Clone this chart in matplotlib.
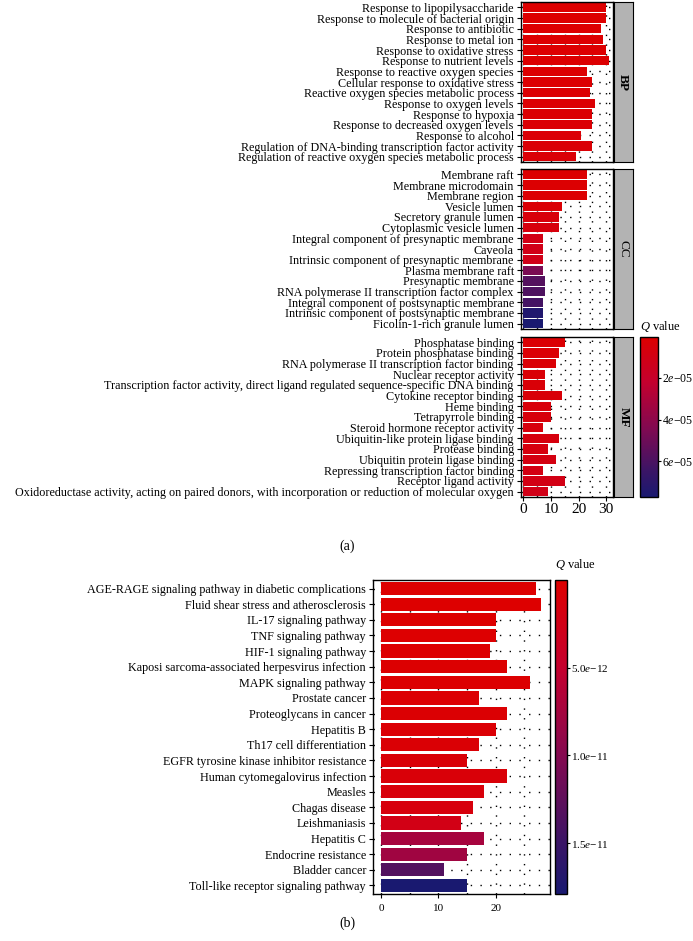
import numpy as np
import matplotlib
matplotlib.use('Agg')
import matplotlib.pyplot as plt
from matplotlib.colors import LinearSegmentedColormap, Normalize
from matplotlib.cm import ScalarMappable

plt.rcParams['font.family'] = ['Liberation Serif', 'DejaVu Serif']
plt.rcParams['mathtext.fontset'] = 'custom'
plt.rcParams['mathtext.it'] = 'Liberation Serif:italic'
plt.rcParams['mathtext.rm'] = 'Liberation Serif'
plt.rcParams['axes.unicode_minus'] = True

# ---- panel (a): GO terms ----
bp_terms = ["Response to lipopilysaccharide", "Response to molecule of bacterial origin",
            "Response to antibiotic", "Response to metal ion", "Response to oxidative stress",
            "Response to nutrient levels", "Response to reactive oxygen species",
            "Cellular response to oxidative stress", "Reactive oxygen species metabolic process",
            "Response to oxygen levels", "Response to hypoxia", "Response to decreased oxygen levels",
            "Response to alcohol", "Regulation of DNA-binding transcription factor activity",
            "Regulation of reactive oxygen species metabolic process"]
bp_count = [30, 30, 28, 29, 30, 31, 23, 25, 24, 26, 25, 25, 21, 25, 19]
bp_q = [5e-7, 6e-7, 8e-7, 9e-7, 1.0e-6, 1.1e-6, 1.3e-6, 1.5e-6, 1.7e-6, 1.9e-6,
        2.1e-6, 2.4e-6, 2.7e-6, 3.0e-6, 3.3e-6]

cc_terms = ["Membrane raft", "Membrane microdomain", "Membrane region", "Vesicle lumen",
            "Secretory granule lumen", "Cytoplasmic vesicle lumen",
            "Integral component of presynaptic membrane", "Caveola",
            "Intrinsic component of presynaptic membrane", "Plasma membrane raft",
            "Presynaptic membrane", "RNA polymerase II transcription factor complex",
            "Integral component of postsynaptic membrane",
            "Intrinsic component of postsynaptic membrane", "Ficolin-1-rich granule lumen"]
cc_count = [23, 23, 23, 14, 13, 13, 7, 7, 7, 7, 8, 8, 7, 7, 7]
cc_q = [1.2e-6, 1.4e-6, 1.6e-6, 3e-6, 5e-6, 6e-6, 1.0e-5, 1.1e-5, 1.2e-5,
        4.6e-5, 5.7e-5, 5.9e-5, 6.2e-5, 7.4e-5, 7.7e-5]

mf_terms = ["Phosphatase binding", "Protein phosphatase binding",
            "RNA polymerase II transcription factor binding", "Nuclear receptor activity",
            "Transcription factor activity, direct ligand regulated sequence-specific DNA binding",
            "Cytokine receptor binding", "Heme binding", "Tetrapyrrole binding",
            "Steroid hormone receptor activity", "Ubiquitin-like protein ligase binding",
            "Protease binding", "Ubiquitin protein ligase binding",
            "Repressing transcription factor binding", "Receptor ligand activity",
            "Oxidoreductase activity, acting on paired donors, with incorporation or reduction of molecular oxygen"]
mf_count = [15, 13, 12, 8, 8, 14, 10, 10, 7, 13, 9, 12, 7, 15, 9]
mf_q = [2e-6, 2.5e-6, 3e-6, 3.5e-6, 4e-6, 4.5e-6, 5e-6, 5.5e-6, 6e-6, 6.5e-6,
        7e-6, 8e-6, 9e-6, 1.0e-5, 1.1e-5]

# ---- panel (b): KEGG pathways ----
kegg_terms = ["AGE-RAGE signaling pathway in diabetic complications",
              "Fluid shear stress and atherosclerosis", "IL-17 signaling pathway",
              "TNF signaling pathway", "HIF-1 signaling pathway",
              "Kaposi sarcoma-associated herpesvirus infection", "MAPK signaling pathway",
              "Prostate cancer", "Proteoglycans in cancer", "Hepatitis B",
              "Th17 cell differentiation", "EGFR tyrosine kinase inhibitor resistance",
              "Human cytomegalovirus infection", "Measles", "Chagas disease",
              "Leishmaniasis", "Hepatitis C", "Endocrine resistance", "Bladder cancer",
              "Toll-like receptor signaling pathway"]
kegg_count = [27, 28, 20, 20, 19, 22, 26, 17, 22, 20, 17, 15, 22, 18, 16, 14, 18, 15, 11, 15]
kegg_q = [1e-14, 3e-14, 5e-14, 8e-14, 1e-13, 1.5e-13, 2e-13, 3e-13, 4e-13, 5e-13,
          6e-13, 8e-13, 9e-13, 1.1e-12, 1.3e-12, 2.3e-12, 7.4e-12, 7.9e-12, 1.34e-11, 1.79e-11]

cmap = LinearSegmentedColormap.from_list(
    'qv', [(0, '#DD0000'), (0.28, '#C4002E'), (0.56, '#840950'), (0.84, '#3A1566'), (1, '#191970')])

W, H = 693, 941
fig = plt.figure(figsize=(W / 100, H / 100), dpi=100)


def box(l, t, r, b):
    return [l / W, 1 - b / H, (r - l) / W, (b - t) / H]


def style(ax, xlim):
    ax.set_xlim(*xlim)
    ax.set_axisbelow(True)
    ax.xaxis.set_minor_locator(plt.MultipleLocator(5))
    ax.grid(True, which='both', axis='x', color='black', lw=1.0, ls=(0, (1, 6)))
    ax.grid(True, axis='y', color='black', lw=1.0, ls=(0, (1, 6)))
    ax.tick_params(which='minor', length=0)
    ax.tick_params(axis='y', length=3, width=0.8, pad=2)
    for s in ax.spines.values():
        s.set_linewidth(1.0)


# panel (a)
norm_a = Normalize(vmin=5e-7, vmax=7.7e-5)
facets = [("BP", bp_terms, bp_count, bp_q, 2, 162, 'bold'),
          ("CC", cc_terms, cc_count, cc_q, 169, 329, 'normal'),
          ("MF", mf_terms, mf_count, mf_q, 337, 497, 'bold')]
for name, terms, counts, qs, top, bot, wt in facets:
    ax = fig.add_axes(box(520.7, top, 612.5, bot))
    y = np.arange(len(terms))
    ax.barh(y, counts, height=0.9, color=cmap(norm_a(np.array(qs))), zorder=2)
    ax.set_yticks(y)
    ax.set_yticklabels(terms, fontsize=8.75)
    ax.set_ylim(len(terms) - 0.5, -0.5)
    style(ax, (-0.95, 32.3))
    ax.set_xticks([0, 10, 20, 30])
    if name == "MF":
        ax.tick_params(axis='x', labelsize=11, length=3, width=0.8, pad=1)
    else:
        ax.tick_params(axis='x', labelbottom=False, length=0)
    sax = fig.add_axes(box(613.5, top, 633, bot))
    sax.set_facecolor('#B3B3B3')
    sax.set_xticks([])
    sax.set_yticks([])
    sax.text(0.5, 0.5, name, rotation=-90, ha='center', va='center',
             fontsize=9.5, fontweight=wt, transform=sax.transAxes)

cax_a = fig.add_axes(box(639.5, 337, 657.5, 497))
cb_a = fig.colorbar(ScalarMappable(norm=norm_a, cmap=cmap), cax=cax_a)
cb_a.set_ticks([2e-5, 4e-5, 6e-5])
cb_a.set_ticklabels([r'2$\mathit{e}$−05', r'4$\mathit{e}$−05', r'6$\mathit{e}$−05'])
cax_a.invert_yaxis()
cax_a.tick_params(labelsize=8.5, length=2, width=0.8, pad=1)
cb_a.outline.set_linewidth(1.0)
fig.text(640 / W, 1 - 327 / H, r'$\mathit{Q}$ value', fontsize=9, va='center')
fig.text(347 / W, 1 - 546 / H, '(a)', fontsize=10, ha='center', va='center')

# panel (b)
norm_b = Normalize(vmin=1e-14, vmax=1.79e-11)
axb = fig.add_axes(box(373, 580, 550, 894))
yb = np.arange(len(kegg_terms))
axb.barh(yb, kegg_count, height=0.85, color=cmap(norm_b(np.array(kegg_q))), zorder=2)
axb.set_yticks(yb)
axb.set_yticklabels(kegg_terms, fontsize=8.75)
axb.set_ylim(len(kegg_terms) - 0.45, -0.55)
style(axb, (-1.45, 29.5))
axb.set_xticks([0, 10, 20])
axb.tick_params(axis='x', labelsize=8, length=3, width=0.8, pad=4)

cax_b = fig.add_axes(box(555, 580, 567, 894))
cb_b = fig.colorbar(ScalarMappable(norm=norm_b, cmap=cmap), cax=cax_b)
cb_b.set_ticks([5e-12, 1e-11, 1.5e-11])
cb_b.set_ticklabels([r'5.0$\mathit{e}$−12', r'1.0$\mathit{e}$−11', r'1.5$\mathit{e}$−11'])
cax_b.invert_yaxis()
cax_b.tick_params(labelsize=8, length=2, width=0.8, pad=1)
cb_b.outline.set_linewidth(1.0)
fig.text(555 / W, 1 - 564 / H, r'$\mathit{Q}$ value', fontsize=9, va='center')
fig.text(347 / W, 1 - 923 / H, '(b)', fontsize=10, ha='center', va='center')

fig.savefig('out.png', dpi=100)
